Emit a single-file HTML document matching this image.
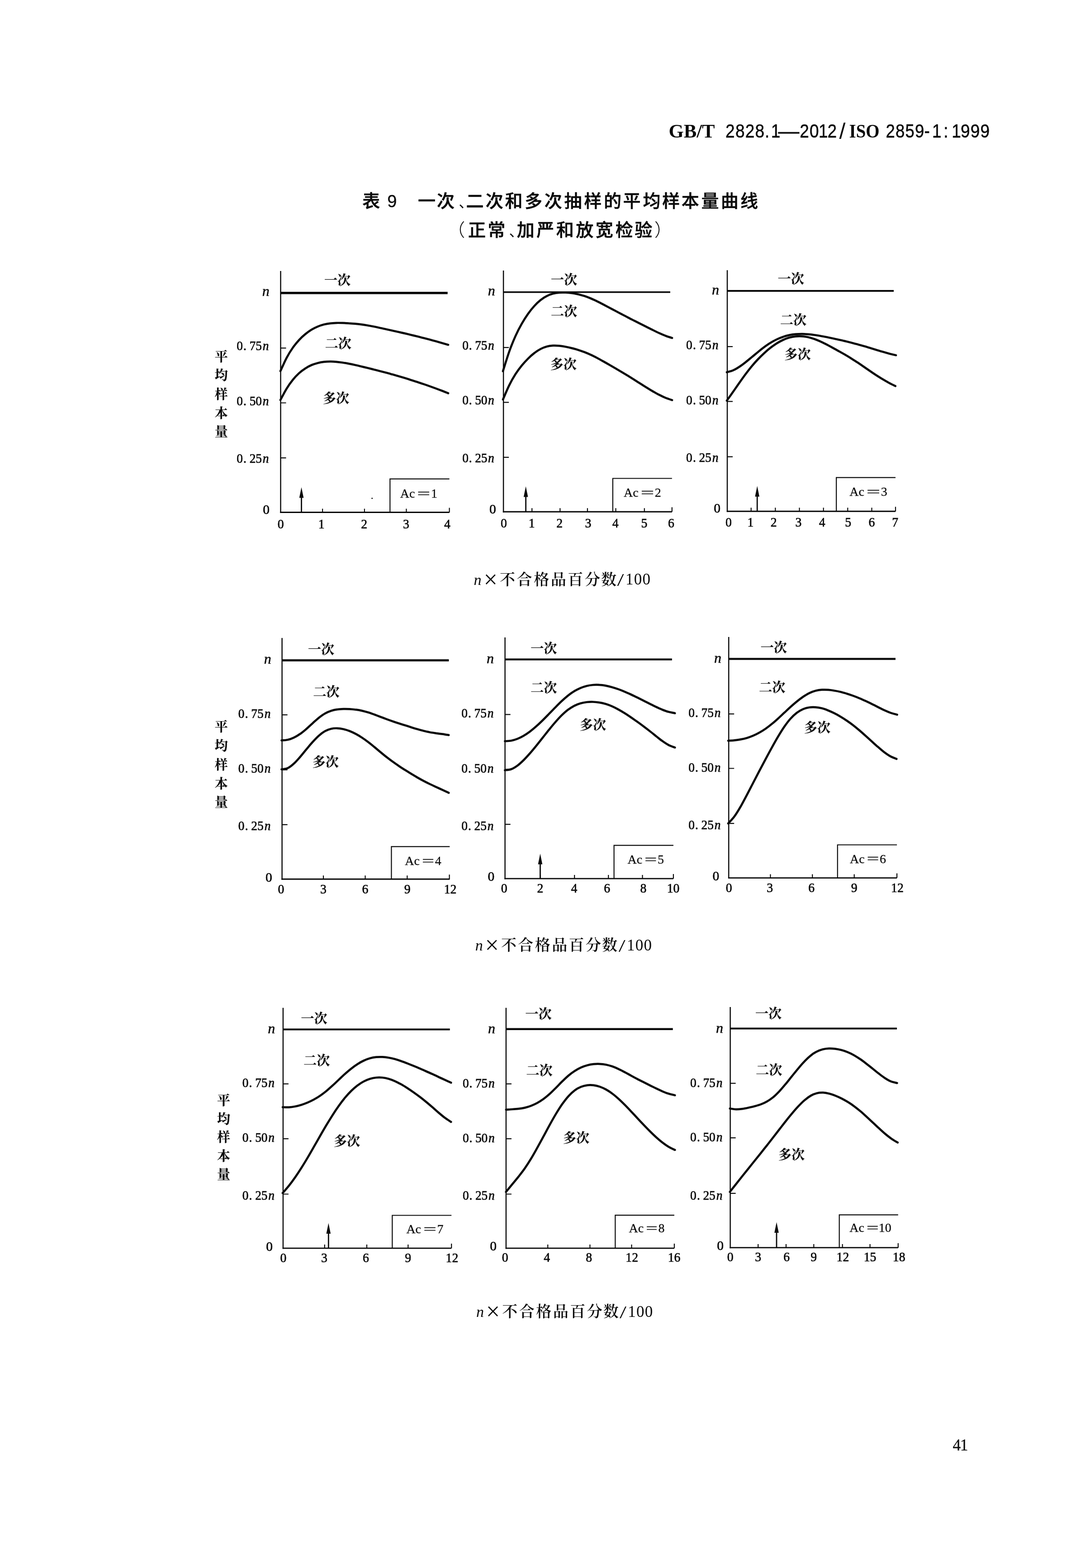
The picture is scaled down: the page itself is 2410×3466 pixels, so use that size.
<!DOCTYPE html>
<html lang="zh-CN">
<head>
<meta charset="utf-8">
<title>GB/T 2828.1—2012/ISO 2859-1:1999 表 9</title>
<style>
html,body{margin:0;padding:0;background:#fff;}
body{width:2410px;height:3466px;overflow:hidden;}
svg{display:block;}
text{fill:#0a0a0a;}
.ax{fill:none;stroke:#0a0a0a;stroke-width:2.9;}
.ay{fill:none;stroke:#0a0a0a;stroke-width:2.5;}
.tk{fill:none;stroke:#0a0a0a;stroke-width:2.2;}
.sh{fill:none;stroke:#0a0a0a;stroke-width:2.8;}
.bx{fill:none;stroke:#0a0a0a;stroke-width:2.2;}
.nl{fill:none;stroke:#0a0a0a;stroke-width:5.2;}
.cv{fill:none;stroke:#0a0a0a;stroke-width:4.7;stroke-linecap:round;stroke-linejoin:round;}
.ah{fill:#0a0a0a;stroke:none;}
.cl{font-family:"Liberation Serif","Noto Serif CJK SC",serif;font-size:29px;font-weight:700;stroke:#0a0a0a;stroke-width:0.25px;}
.vl{font-family:"Liberation Serif","Noto Serif CJK SC",serif;font-size:29px;font-weight:700;stroke:#0a0a0a;stroke-width:0.25px;}
.tl{font-family:"Liberation Serif","Noto Serif CJK SC",serif;font-size:29.5px;stroke:#0a0a0a;stroke-width:0.75px;}
.it{font-style:italic;}
.ac{font-family:"Liberation Serif","Noto Serif CJK SC",serif;font-size:28px;stroke:#0a0a0a;stroke-width:0.3px;}
.xt{font-family:"Liberation Serif","Noto Serif CJK SC",serif;}
.xc{font-family:"Liberation Serif","Noto Serif CJK SC",serif;font-size:34px;font-weight:600;}
.hb{font-family:"Liberation Serif","Noto Serif CJK SC",serif;font-size:42px;font-weight:700;}
.hs{font-family:"Liberation Sans","Noto Sans CJK SC",sans-serif;font-size:43px;letter-spacing:1.44px;stroke:#0a0a0a;stroke-width:0.6px;}
.hd{font-family:"Liberation Sans","Noto Sans CJK SC",sans-serif;font-size:40px;stroke:#0a0a0a;stroke-width:0.8px;}
.hl{font-family:"Liberation Sans","Noto Sans CJK SC",sans-serif;font-size:50px;}
.tt{font-family:"Liberation Sans","Noto Sans CJK SC",sans-serif;font-size:39px;font-weight:500;stroke:#0a0a0a;stroke-width:0.6px;}
.pc{font-size:30px;font-weight:400;stroke-width:0.2px;}
.pp{font-weight:300;stroke-width:0.1px;}
.t9{font-family:"Liberation Sans","Noto Sans CJK SC",sans-serif;font-size:38px;font-weight:400;stroke:#0a0a0a;stroke-width:0.4px;}
</style>
</head>
<body>
<svg width="2410" height="3466" viewBox="0 0 2410 3466">
<rect x="0" y="0" width="2410" height="3466" fill="#ffffff"/>
<g>
<path class="ay" d="M620.5 599.1 V1133.9"/>
<path class="ax" d="M619.2 1132.5 H993.6"/>
<path class="tk" d="M620.5 769.3 h12M620.5 890.5 h12M620.5 1012.1 h12M713.1 1132.5 v-8M805.9 1132.5 v-8M898.4 1132.5 v-8M993.6 1132.5 v-10"/>
<path class="nl" style="stroke-width:5.2" d="M620.5 647.7 H989.7"/>
<path class="cv" d="M620.0 820.3C622.3 815.4 629.2 799.5 633.8 790.8C638.3 782.2 642.9 775.0 647.5 768.5C652.1 761.9 656.7 756.6 661.2 751.6C665.8 746.6 670.4 742.4 675.0 738.7C679.6 734.9 684.1 731.6 688.7 728.8C693.3 726.0 697.9 723.7 702.5 721.8C707.0 719.9 711.6 718.4 716.2 717.2C720.8 716.1 725.4 715.3 729.9 714.8C734.5 714.2 739.1 714.0 743.7 713.8C748.2 713.7 752.8 713.8 757.4 713.9C762.0 714.0 766.6 714.3 771.1 714.6C775.7 714.8 780.3 715.2 784.9 715.6C789.5 716.1 794.0 716.6 798.6 717.2C803.2 717.8 807.8 718.5 812.4 719.3C816.9 720.0 821.5 720.9 826.1 721.8C830.7 722.7 835.3 723.7 839.8 724.7C844.4 725.6 849.0 726.7 853.6 727.7C858.2 728.7 862.7 729.7 867.3 730.7C871.9 731.7 876.5 732.7 881.0 733.8C885.6 734.8 890.2 735.9 894.8 736.9C899.4 738.0 903.9 739.1 908.5 740.2C913.1 741.3 917.7 742.4 922.3 743.5C926.8 744.7 931.4 745.8 936.0 747.0C940.6 748.2 945.2 749.4 949.7 750.6C954.3 751.8 958.9 753.1 963.5 754.3C968.1 755.6 972.6 756.9 977.2 758.2C981.8 759.5 988.7 761.5 991.0 762.2"/>
<path class="cv" d="M620.0 884.2C622.3 880.0 629.2 866.3 633.8 858.9C638.3 851.4 642.9 845.1 647.5 839.4C652.1 833.8 656.7 829.1 661.2 824.9C665.8 820.7 670.4 817.3 675.0 814.4C679.6 811.4 684.1 809.0 688.7 807.0C693.3 805.0 697.9 803.6 702.5 802.4C707.0 801.2 711.6 800.4 716.2 799.9C720.8 799.4 725.4 799.2 729.9 799.2C734.5 799.1 739.1 799.4 743.7 799.8C748.2 800.2 752.8 800.8 757.4 801.5C762.0 802.1 766.6 803.0 771.1 803.9C775.7 804.7 780.3 805.7 784.9 806.8C789.5 807.8 794.0 808.9 798.6 810.0C803.2 811.1 807.8 812.2 812.4 813.3C816.9 814.4 821.5 815.6 826.1 816.7C830.7 817.8 835.3 819.0 839.8 820.2C844.4 821.3 849.0 822.5 853.6 823.8C858.2 825.0 862.7 826.3 867.3 827.6C871.9 828.8 876.5 830.2 881.0 831.5C885.6 832.9 890.2 834.2 894.8 835.6C899.4 837.0 903.9 838.4 908.5 839.9C913.1 841.3 917.7 842.8 922.3 844.3C926.8 845.8 931.4 847.3 936.0 848.9C940.6 850.4 945.2 852.0 949.7 853.6C954.3 855.3 958.9 856.9 963.5 858.6C968.1 860.3 972.6 862.0 977.2 863.8C981.8 865.5 988.7 868.3 991.0 869.2"/>
<path class="bx" d="M862.3 1132.5 V1058.7 H993.6"/>
<path class="sh" d="M666.5 1132.5 V1097.0"/>
<path class="ah" d="M666.5 1077.0 l-4.8 23.5 h9.6z"/>
<text class="cl" x="746.1" y="629.7" text-anchor="middle">一次</text>
<text class="cl" x="747.7" y="770.4" text-anchor="middle">二次</text>
<text class="cl" x="743.0" y="890.8" text-anchor="middle">多次</text>
<text class="tl" transform="translate(523.3 773.9) scale(0.93 1)" x="0.0 15.9 30.5 45.1 61.9" y="0">0.75<tspan class="it">n</tspan></text>
<text class="tl" transform="translate(523.3 895.5) scale(0.93 1)" x="0.0 15.9 30.5 45.1 61.9" y="0">0.50<tspan class="it">n</tspan></text>
<text class="tl" transform="translate(523.3 1022.6) scale(0.93 1)" x="0.0 15.9 30.5 45.1 61.9" y="0">0.25<tspan class="it">n</tspan></text>
<text class="tl it" style="font-size:32px;stroke-width:0.55px" x="579.8" y="653.5">n</text>
<text class="tl" x="588.6" y="1136.4" text-anchor="middle">0</text>
<text class="tl" transform="translate(620.6 1168.2) scale(0.94 1)" text-anchor="middle">0</text>
<text class="tl" transform="translate(710.8 1168.2) scale(0.94 1)" text-anchor="middle">1</text>
<text class="tl" transform="translate(805.2 1168.2) scale(0.94 1)" text-anchor="middle">2</text>
<text class="tl" transform="translate(898.0 1168.2) scale(0.94 1)" text-anchor="middle">3</text>
<text class="tl" transform="translate(988.9 1168.2) scale(0.94 1)" text-anchor="middle">4</text>
<text class="ac" y="1100.3"><tspan x="884.8">Ac</tspan><tspan x="922.3" dy="-0.5" textLength="29.1" lengthAdjust="spacingAndGlyphs">=</tspan><tspan x="952.9" dy="0.5">1</tspan></text>
</g>
<g>
<path class="ay" d="M1113.1 598.0 V1132.7"/>
<path class="ax" d="M1111.8 1131.3 H1485.8"/>
<path class="tk" d="M1113.1 768.1 h12M1113.1 889.3 h12M1113.1 1010.9 h12M1176.2 1131.3 v-8M1238.3 1131.3 v-8M1298.9 1131.3 v-8M1361.5 1131.3 v-8M1424.8 1131.3 v-8M1485.8 1131.3 v-10"/>
<path class="nl" style="stroke-width:3.6" d="M1113.1 645.8 H1481.9"/>
<path class="cv" d="M1112.0 820.5C1114.3 813.3 1121.3 790.1 1125.9 777.2C1130.5 764.3 1135.1 753.2 1139.7 742.9C1144.3 732.7 1148.9 723.9 1153.6 715.7C1158.2 707.6 1162.8 700.4 1167.4 693.9C1172.0 687.3 1176.6 681.6 1181.3 676.5C1185.9 671.4 1190.5 667.0 1195.1 663.4C1199.7 659.7 1204.3 656.7 1209.0 654.4C1213.6 652.0 1218.2 650.4 1222.8 649.1C1227.4 647.9 1232.0 647.2 1236.7 646.8C1241.3 646.4 1245.9 646.5 1250.5 646.7C1255.1 646.9 1259.7 647.3 1264.4 648.0C1269.0 648.6 1273.6 649.4 1278.2 650.5C1282.8 651.6 1287.4 652.8 1292.1 654.3C1296.7 655.8 1301.3 657.6 1305.9 659.5C1310.5 661.4 1315.1 663.6 1319.8 665.8C1324.4 668.0 1329.0 670.4 1333.6 672.8C1338.2 675.2 1342.8 677.7 1347.5 680.2C1352.1 682.6 1356.7 685.1 1361.3 687.5C1365.9 690.0 1370.5 692.4 1375.2 694.8C1379.8 697.3 1384.4 699.7 1389.0 702.1C1393.6 704.4 1398.2 706.8 1402.9 709.2C1407.5 711.5 1412.1 713.9 1416.7 716.2C1421.3 718.5 1425.9 720.8 1430.6 723.1C1435.2 725.4 1439.8 727.8 1444.4 730.0C1449.0 732.3 1453.6 734.6 1458.3 736.7C1462.9 738.7 1467.5 740.8 1472.1 742.5C1476.7 744.3 1483.6 746.3 1486.0 747.0"/>
<path class="cv" d="M1112.0 883.1C1114.3 877.9 1121.3 860.9 1125.9 851.6C1130.5 842.2 1135.1 834.4 1139.7 827.1C1144.3 819.9 1148.9 813.9 1153.6 808.1C1158.2 802.4 1162.8 797.4 1167.4 792.8C1172.0 788.2 1176.6 784.0 1181.3 780.5C1185.9 776.9 1190.5 773.9 1195.1 771.5C1199.7 769.1 1204.3 767.3 1209.0 766.0C1213.6 764.7 1218.2 764.2 1222.8 763.9C1227.4 763.6 1232.0 763.9 1236.7 764.4C1241.3 764.8 1245.9 765.6 1250.5 766.5C1255.1 767.4 1259.7 768.4 1264.4 769.6C1269.0 770.7 1273.6 772.0 1278.2 773.4C1282.8 774.9 1287.4 776.5 1292.1 778.3C1296.7 780.1 1301.3 782.0 1305.9 784.2C1310.5 786.3 1315.1 788.6 1319.8 791.0C1324.4 793.5 1329.0 796.0 1333.6 798.6C1338.2 801.2 1342.8 803.9 1347.5 806.5C1352.1 809.2 1356.7 811.8 1361.3 814.5C1365.9 817.3 1370.5 820.0 1375.2 822.7C1379.8 825.5 1384.4 828.3 1389.0 831.1C1393.6 834.0 1398.2 836.9 1402.9 839.8C1407.5 842.7 1412.1 845.6 1416.7 848.5C1421.3 851.5 1425.9 854.4 1430.6 857.2C1435.2 860.1 1439.8 862.9 1444.4 865.6C1449.0 868.2 1453.6 870.9 1458.3 873.2C1462.9 875.6 1467.5 877.8 1472.1 879.7C1476.7 881.5 1483.6 883.6 1486.0 884.4"/>
<path class="bx" d="M1354.9 1131.3 V1057.5 H1485.8"/>
<path class="sh" d="M1162.6 1131.3 V1095.0"/>
<path class="ah" d="M1162.6 1075.0 l-4.8 23.5 h9.6z"/>
<text class="cl" x="1246.9" y="628.6" text-anchor="middle">一次</text>
<text class="cl" x="1246.9" y="698.5" text-anchor="middle">二次</text>
<text class="cl" x="1245.7" y="815.8" text-anchor="middle">多次</text>
<text class="tl" transform="translate(1022.2 773.2) scale(0.93 1)" x="0.0 15.7 30.2 44.7 61.2" y="0">0.75<tspan class="it">n</tspan></text>
<text class="tl" transform="translate(1022.2 894.4) scale(0.93 1)" x="0.0 15.7 30.2 44.7 61.2" y="0">0.50<tspan class="it">n</tspan></text>
<text class="tl" transform="translate(1022.2 1021.8) scale(0.93 1)" x="0.0 15.7 30.2 44.7 61.2" y="0">0.25<tspan class="it">n</tspan></text>
<text class="tl it" style="font-size:32px;stroke-width:0.55px" x="1078.7" y="652.7">n</text>
<text class="tl" x="1089.4" y="1135.2" text-anchor="middle">0</text>
<text class="tl" transform="translate(1114.0 1165.5) scale(0.94 1)" text-anchor="middle">0</text>
<text class="tl" transform="translate(1175.8 1165.5) scale(0.94 1)" text-anchor="middle">1</text>
<text class="tl" transform="translate(1237.2 1165.5) scale(0.94 1)" text-anchor="middle">2</text>
<text class="tl" transform="translate(1300.5 1165.5) scale(0.94 1)" text-anchor="middle">3</text>
<text class="tl" transform="translate(1360.7 1165.5) scale(0.94 1)" text-anchor="middle">4</text>
<text class="tl" transform="translate(1424.4 1165.5) scale(0.94 1)" text-anchor="middle">5</text>
<text class="tl" transform="translate(1483.9 1165.5) scale(0.94 1)" text-anchor="middle">6</text>
<text class="ac" y="1098.3"><tspan x="1379.0">Ac</tspan><tspan x="1416.5" dy="-0.5" textLength="29.9" lengthAdjust="spacingAndGlyphs">=</tspan><tspan x="1447.8" dy="0.5">2</tspan></text>
</g>
<g>
<path class="ay" d="M1608.0 597.2 V1131.6"/>
<path class="ax" d="M1606.8 1130.2 H1980.0"/>
<path class="tk" d="M1608.0 766.2 h12M1608.0 887.4 h12M1608.0 1009.7 h12M1660.7 1130.2 v-8M1714.3 1130.2 v-8M1767.5 1130.2 v-8M1820.7 1130.2 v-8M1874.3 1130.2 v-8M1927.5 1130.2 v-8M1980.0 1130.2 v-10"/>
<path class="nl" style="stroke-width:4.0" d="M1608.0 643.0 H1976.1"/>
<path class="cv" d="M1607.0 822.8C1609.3 822.1 1616.3 820.7 1620.9 818.7C1625.5 816.7 1630.1 813.9 1634.7 810.8C1639.3 807.8 1643.9 804.2 1648.6 800.6C1653.2 797.0 1657.8 793.1 1662.4 789.3C1667.0 785.5 1671.6 781.5 1676.3 777.8C1680.9 774.0 1685.5 770.3 1690.1 766.9C1694.7 763.5 1699.3 760.3 1704.0 757.5C1708.6 754.7 1713.2 752.2 1717.8 750.0C1722.4 747.8 1727.0 745.9 1731.7 744.4C1736.3 742.8 1740.9 741.6 1745.5 740.6C1750.1 739.7 1754.7 739.1 1759.4 738.7C1764.0 738.3 1768.6 738.2 1773.2 738.2C1777.8 738.2 1782.4 738.5 1787.1 738.9C1791.7 739.3 1796.3 739.9 1800.9 740.5C1805.5 741.1 1810.1 741.9 1814.8 742.7C1819.4 743.5 1824.0 744.4 1828.6 745.3C1833.2 746.3 1837.8 747.2 1842.5 748.2C1847.1 749.2 1851.7 750.2 1856.3 751.3C1860.9 752.3 1865.5 753.4 1870.2 754.5C1874.8 755.6 1879.4 756.7 1884.0 757.9C1888.6 759.1 1893.2 760.4 1897.9 761.7C1902.5 762.9 1907.1 764.3 1911.7 765.6C1916.3 766.9 1920.9 768.3 1925.6 769.7C1930.2 771.1 1934.8 772.5 1939.4 773.9C1944.0 775.3 1948.6 776.7 1953.3 778.0C1957.9 779.3 1962.5 780.6 1967.1 781.9C1971.7 783.1 1978.6 784.7 1981.0 785.2"/>
<path class="cv" d="M1607.0 885.5C1609.3 882.3 1616.2 872.7 1620.8 866.2C1625.4 859.6 1630.0 852.8 1634.6 846.3C1639.2 839.8 1643.8 833.3 1648.4 827.1C1653.0 821.0 1657.6 815.1 1662.2 809.5C1666.8 804.0 1671.4 798.8 1676.0 794.0C1680.6 789.1 1685.2 784.6 1689.8 780.4C1694.4 776.2 1699.0 772.3 1703.6 768.7C1708.2 765.2 1712.8 761.9 1717.4 759.0C1722.0 756.2 1726.6 753.6 1731.2 751.5C1735.8 749.4 1740.4 747.6 1745.0 746.3C1749.6 745.0 1754.2 744.1 1758.9 743.6C1763.5 743.1 1768.1 743.0 1772.7 743.3C1777.3 743.6 1781.9 744.3 1786.5 745.3C1791.1 746.3 1795.7 747.7 1800.3 749.3C1804.9 750.9 1809.5 752.9 1814.1 754.9C1818.7 757.0 1823.3 759.4 1827.9 761.7C1832.5 764.1 1837.1 766.6 1841.7 769.1C1846.3 771.6 1850.9 774.1 1855.5 776.7C1860.1 779.2 1864.7 781.8 1869.3 784.5C1873.9 787.2 1878.5 790.0 1883.1 792.9C1887.7 795.8 1892.3 798.8 1896.9 801.8C1901.5 804.9 1906.1 808.1 1910.7 811.3C1915.3 814.4 1919.9 817.6 1924.5 820.7C1929.1 823.9 1933.7 827.0 1938.3 830.0C1942.9 832.9 1947.5 835.8 1952.1 838.6C1956.7 841.4 1961.3 844.0 1965.9 846.5C1970.5 849.0 1977.4 852.3 1979.7 853.4"/>
<path class="bx" d="M1849.1 1130.2 V1055.6 H1980.0"/>
<path class="sh" d="M1674.2 1130.2 V1094.2"/>
<path class="ah" d="M1674.2 1074.2 l-4.8 23.5 h9.6z"/>
<text class="cl" x="1748.8" y="626.6" text-anchor="middle">一次</text>
<text class="cl" x="1753.9" y="717.9" text-anchor="middle">二次</text>
<text class="cl" x="1763.6" y="794.4" text-anchor="middle">多次</text>
<text class="tl" transform="translate(1517.1 772.0) scale(0.93 1)" x="0.0 15.9 30.5 45.1 61.9" y="0">0.75<tspan class="it">n</tspan></text>
<text class="tl" transform="translate(1517.1 893.6) scale(0.93 1)" x="0.0 15.9 30.5 45.1 61.9" y="0">0.50<tspan class="it">n</tspan></text>
<text class="tl" transform="translate(1517.1 1020.6) scale(0.93 1)" x="0.0 15.9 30.5 45.1 61.9" y="0">0.25<tspan class="it">n</tspan></text>
<text class="tl it" style="font-size:32px;stroke-width:0.55px" x="1574.0" y="650.8">n</text>
<text class="tl" x="1585.5" y="1133.3" text-anchor="middle">0</text>
<text class="tl" transform="translate(1610.9 1163.6) scale(0.94 1)" text-anchor="middle">0</text>
<text class="tl" transform="translate(1659.5 1163.6) scale(0.94 1)" text-anchor="middle">1</text>
<text class="tl" transform="translate(1710.8 1163.6) scale(0.94 1)" text-anchor="middle">2</text>
<text class="tl" transform="translate(1765.5 1163.6) scale(0.94 1)" text-anchor="middle">3</text>
<text class="tl" transform="translate(1817.6 1163.6) scale(0.94 1)" text-anchor="middle">4</text>
<text class="tl" transform="translate(1875.1 1163.6) scale(0.94 1)" text-anchor="middle">5</text>
<text class="tl" transform="translate(1927.5 1163.6) scale(0.94 1)" text-anchor="middle">6</text>
<text class="tl" transform="translate(1979.2 1163.6) scale(0.94 1)" text-anchor="middle">7</text>
<text class="ac" y="1096.4"><tspan x="1878.2">Ac</tspan><tspan x="1915.7" dy="-0.5" textLength="30.6" lengthAdjust="spacingAndGlyphs">=</tspan><tspan x="1947.8" dy="0.5">3</tspan></text>
</g>
<g>
<path class="ay" d="M623.6 1410.3 V1944.7"/>
<path class="ax" d="M622.3 1943.3 H994.3"/>
<path class="tk" d="M623.6 1580.1 h12M623.6 1701.7 h12M623.6 1822.9 h12M715.0 1943.3 v-8M807.5 1943.3 v-8M900.3 1943.3 v-8M993.6 1943.3 v-10"/>
<path class="nl" style="stroke-width:4.6" d="M623.6 1459.6 H992.4"/>
<path class="cv" d="M622.5 1636.6C624.8 1636.4 631.7 1636.3 636.2 1635.3C640.8 1634.3 645.4 1632.6 649.9 1630.4C654.5 1628.3 659.0 1625.5 663.6 1622.3C668.2 1619.2 672.7 1615.3 677.3 1611.4C681.9 1607.5 686.4 1602.9 691.0 1598.9C695.6 1594.8 700.1 1590.4 704.7 1586.8C709.2 1583.2 713.8 1579.8 718.4 1577.2C722.9 1574.6 727.5 1572.7 732.1 1571.2C736.6 1569.7 741.2 1568.8 745.8 1568.2C750.3 1567.5 754.9 1567.3 759.4 1567.1C764.0 1567.0 768.6 1567.1 773.1 1567.3C777.7 1567.6 782.3 1568.0 786.8 1568.7C791.4 1569.3 796.0 1570.1 800.5 1571.1C805.1 1572.2 809.7 1573.4 814.2 1574.8C818.8 1576.2 823.3 1577.9 827.9 1579.5C832.5 1581.2 837.0 1583.0 841.6 1584.7C846.2 1586.4 850.7 1588.2 855.3 1589.9C859.9 1591.6 864.4 1593.2 869.0 1594.7C873.5 1596.3 878.1 1597.8 882.7 1599.2C887.2 1600.7 891.8 1602.2 896.4 1603.6C900.9 1605.1 905.5 1606.5 910.1 1607.9C914.6 1609.4 919.2 1610.8 923.7 1612.1C928.3 1613.4 932.9 1614.7 937.4 1615.8C942.0 1616.9 946.6 1617.8 951.1 1618.7C955.7 1619.5 960.3 1620.2 964.8 1620.9C969.4 1621.5 973.9 1622.1 978.5 1622.7C983.1 1623.4 989.9 1624.5 992.2 1624.8"/>
<path class="cv" d="M622.5 1700.5C624.8 1700.1 631.7 1700.1 636.2 1697.9C640.8 1695.8 645.4 1692.0 649.9 1687.8C654.5 1683.7 659.0 1678.3 663.6 1673.1C668.2 1667.9 672.7 1662.0 677.3 1656.5C681.9 1651.1 686.4 1645.4 691.0 1640.4C695.6 1635.4 700.1 1630.4 704.7 1626.4C709.2 1622.4 713.8 1618.9 718.4 1616.3C722.9 1613.7 727.5 1612.1 732.1 1611.0C736.6 1609.9 741.2 1609.6 745.8 1609.8C750.3 1609.9 754.9 1610.7 759.4 1611.7C764.0 1612.8 768.6 1614.3 773.1 1616.0C777.7 1617.8 782.3 1620.0 786.8 1622.4C791.4 1624.8 796.0 1627.6 800.5 1630.6C805.1 1633.6 809.7 1636.9 814.2 1640.4C818.8 1643.8 823.3 1647.6 827.9 1651.4C832.5 1655.1 837.0 1659.1 841.6 1662.8C846.2 1666.6 850.7 1670.4 855.3 1673.9C859.9 1677.5 864.4 1680.9 869.0 1684.2C873.5 1687.5 878.1 1690.6 882.7 1693.7C887.2 1696.8 891.8 1699.7 896.4 1702.6C900.9 1705.5 905.5 1708.3 910.1 1711.1C914.6 1713.8 919.2 1716.5 923.7 1719.1C928.3 1721.7 932.9 1724.2 937.4 1726.6C942.0 1729.0 946.6 1731.3 951.1 1733.5C955.7 1735.7 960.3 1737.8 964.8 1739.9C969.4 1742.0 973.9 1744.0 978.5 1746.1C983.1 1748.2 989.9 1751.5 992.2 1752.6"/>
<path class="bx" d="M865.4 1943.3 V1871.4 H994.3"/>
<text class="cl" x="710.0" y="1446.3" text-anchor="middle">一次</text>
<text class="cl" x="721.6" y="1539.6" text-anchor="middle">二次</text>
<text class="cl" x="719.7" y="1694.9" text-anchor="middle">多次</text>
<text class="tl" transform="translate(526.8 1587.1) scale(0.93 1)" x="0.0 16.0 30.7 45.4 62.2" y="0">0.75<tspan class="it">n</tspan></text>
<text class="tl" transform="translate(526.8 1708.3) scale(0.93 1)" x="0.0 16.0 30.7 45.4 62.2" y="0">0.50<tspan class="it">n</tspan></text>
<text class="tl" transform="translate(526.8 1835.3) scale(0.93 1)" x="0.0 16.0 30.7 45.4 62.2" y="0">0.25<tspan class="it">n</tspan></text>
<text class="tl it" style="font-size:32px;stroke-width:0.55px" x="583.7" y="1467.4">n</text>
<text class="tl" x="594.4" y="1949.1" text-anchor="middle">0</text>
<text class="tl" transform="translate(621.4 1975.1) scale(0.94 1)" text-anchor="middle">0</text>
<text class="tl" transform="translate(715.0 1975.1) scale(0.94 1)" text-anchor="middle">3</text>
<text class="tl" transform="translate(807.5 1975.1) scale(0.94 1)" text-anchor="middle">6</text>
<text class="tl" transform="translate(900.7 1975.1) scale(0.94 1)" text-anchor="middle">9</text>
<text class="tl" transform="translate(995.5 1975.1) scale(0.94 1)" text-anchor="middle">12</text>
<text class="ac" y="1912.2"><tspan x="895.3">Ac</tspan><tspan x="932.8" dy="-0.5" textLength="27.5" lengthAdjust="spacingAndGlyphs">=</tspan><tspan x="961.8" dy="0.5">4</tspan></text>
</g>
<g>
<path class="ay" d="M1116.6 1409.1 V1943.5"/>
<path class="ax" d="M1115.3 1942.1 H1488.9"/>
<path class="tk" d="M1116.6 1579.3 h12M1116.6 1700.5 h12M1116.6 1822.1 h12M1194.4 1942.1 v-8M1270.2 1942.1 v-8M1345.2 1942.1 v-8M1420.5 1942.1 v-8M1488.9 1942.1 v-10"/>
<path class="nl" style="stroke-width:4.2" d="M1116.6 1457.7 H1485.8"/>
<path class="cv" d="M1116.3 1638.4C1118.6 1638.2 1125.6 1638.1 1130.2 1637.2C1134.8 1636.3 1139.5 1634.9 1144.1 1633.1C1148.8 1631.2 1153.4 1628.9 1158.0 1626.2C1162.7 1623.5 1167.3 1620.3 1172.0 1616.8C1176.6 1613.3 1181.3 1609.4 1185.9 1605.3C1190.5 1601.2 1195.2 1596.7 1199.8 1592.2C1204.5 1587.7 1209.1 1582.9 1213.7 1578.2C1218.4 1573.4 1223.0 1568.5 1227.7 1563.8C1232.3 1559.1 1237.0 1554.3 1241.6 1550.0C1246.2 1545.7 1250.9 1541.5 1255.5 1537.8C1260.2 1534.1 1264.8 1530.9 1269.4 1528.1C1274.1 1525.2 1278.7 1522.9 1283.4 1520.9C1288.0 1518.9 1292.6 1517.4 1297.3 1516.2C1301.9 1515.1 1306.6 1514.4 1311.2 1514.0C1315.9 1513.6 1320.5 1513.6 1325.1 1513.9C1329.8 1514.1 1334.4 1514.8 1339.1 1515.6C1343.7 1516.5 1348.3 1517.6 1353.0 1518.9C1357.6 1520.2 1362.3 1521.7 1366.9 1523.4C1371.5 1525.0 1376.2 1526.9 1380.8 1528.8C1385.5 1530.7 1390.1 1532.8 1394.8 1535.0C1399.4 1537.1 1404.0 1539.4 1408.7 1541.7C1413.3 1544.0 1418.0 1546.3 1422.6 1548.6C1427.2 1551.0 1431.9 1553.3 1436.5 1555.7C1441.2 1558.0 1445.8 1560.3 1450.4 1562.5C1455.1 1564.6 1459.7 1566.8 1464.4 1568.7C1469.0 1570.5 1473.7 1572.3 1478.3 1573.6C1482.9 1574.9 1489.9 1576.0 1492.2 1576.5"/>
<path class="cv" d="M1116.3 1702.6C1118.6 1702.2 1125.6 1702.0 1130.2 1700.3C1134.8 1698.6 1139.5 1695.6 1144.1 1692.3C1148.8 1688.9 1153.4 1684.5 1158.0 1680.0C1162.7 1675.4 1167.3 1670.2 1172.0 1664.9C1176.6 1659.7 1181.3 1654.0 1185.9 1648.3C1190.5 1642.6 1195.2 1636.6 1199.8 1630.8C1204.5 1624.9 1209.1 1618.9 1213.7 1613.2C1218.4 1607.5 1223.0 1601.8 1227.7 1596.5C1232.3 1591.2 1237.0 1586.0 1241.6 1581.4C1246.2 1576.9 1250.9 1572.6 1255.5 1569.1C1260.2 1565.6 1264.8 1562.7 1269.4 1560.3C1274.1 1557.9 1278.7 1556.2 1283.4 1554.8C1288.0 1553.4 1292.6 1552.6 1297.3 1552.0C1301.9 1551.5 1306.6 1551.4 1311.2 1551.5C1315.9 1551.6 1320.5 1552.1 1325.1 1552.9C1329.8 1553.6 1334.4 1554.7 1339.1 1556.1C1343.7 1557.5 1348.3 1559.2 1353.0 1561.2C1357.6 1563.2 1362.3 1565.6 1366.9 1568.1C1371.5 1570.6 1376.2 1573.4 1380.8 1576.3C1385.5 1579.2 1390.1 1582.3 1394.8 1585.5C1399.4 1588.6 1404.0 1591.9 1408.7 1595.2C1413.3 1598.5 1418.0 1601.9 1422.6 1605.4C1427.2 1608.8 1431.9 1612.4 1436.5 1616.0C1441.2 1619.6 1445.8 1623.4 1450.4 1627.1C1455.1 1630.7 1459.7 1634.6 1464.4 1637.9C1469.0 1641.2 1473.7 1644.5 1478.3 1646.9C1482.9 1649.3 1489.9 1651.5 1492.2 1652.4"/>
<path class="bx" d="M1357.6 1942.1 V1868.7 H1488.9"/>
<path class="sh" d="M1194.4 1942.1 V1907.0"/>
<path class="ah" d="M1194.4 1887.0 l-4.8 23.5 h9.6z"/>
<text class="cl" x="1202.2" y="1444.4" text-anchor="middle">一次</text>
<text class="cl" x="1202.2" y="1530.6" text-anchor="middle">二次</text>
<text class="cl" x="1311.0" y="1613.4" text-anchor="middle">多次</text>
<text class="tl" transform="translate(1020.2 1585.9) scale(0.93 1)" x="0.0 15.9 30.5 45.1 61.9" y="0">0.75<tspan class="it">n</tspan></text>
<text class="tl" transform="translate(1020.2 1707.5) scale(0.93 1)" x="0.0 15.9 30.5 45.1 61.9" y="0">0.50<tspan class="it">n</tspan></text>
<text class="tl" transform="translate(1020.2 1834.5) scale(0.93 1)" x="0.0 15.9 30.5 45.1 61.9" y="0">0.25<tspan class="it">n</tspan></text>
<text class="tl it" style="font-size:32px;stroke-width:0.55px" x="1076.0" y="1466.2">n</text>
<text class="tl" x="1085.9" y="1947.2" text-anchor="middle">0</text>
<text class="tl" transform="translate(1114.8 1973.2) scale(0.94 1)" text-anchor="middle">0</text>
<text class="tl" transform="translate(1194.4 1973.2) scale(0.94 1)" text-anchor="middle">2</text>
<text class="tl" transform="translate(1269.4 1973.2) scale(0.94 1)" text-anchor="middle">4</text>
<text class="tl" transform="translate(1342.1 1973.2) scale(0.94 1)" text-anchor="middle">6</text>
<text class="tl" transform="translate(1422.5 1973.2) scale(0.94 1)" text-anchor="middle">8</text>
<text class="tl" transform="translate(1488.5 1973.2) scale(0.94 1)" text-anchor="middle">10</text>
<text class="ac" y="1909.1"><tspan x="1387.5">Ac</tspan><tspan x="1425.0" dy="-0.5" textLength="27.5" lengthAdjust="spacingAndGlyphs">=</tspan><tspan x="1454.0" dy="0.5">5</tspan></text>
</g>
<g>
<path class="ay" d="M1611.2 1408.0 V1942.0"/>
<path class="ax" d="M1609.9 1940.6 H1983.1"/>
<path class="tk" d="M1611.2 1578.1 h12M1611.2 1698.5 h12M1611.2 1820.1 h12M1703.4 1940.6 v-8M1796.2 1940.6 v-8M1888.7 1940.6 v-8M1983.1 1940.6 v-10"/>
<path class="nl" style="stroke-width:4.6" d="M1611.2 1456.5 H1980.0"/>
<path class="cv" d="M1610.0 1637.4C1612.3 1637.2 1619.2 1636.8 1623.9 1636.3C1628.5 1635.8 1633.1 1635.3 1637.7 1634.4C1642.3 1633.6 1646.9 1632.6 1651.5 1631.2C1656.1 1629.8 1660.7 1628.2 1665.3 1626.2C1670.0 1624.2 1674.6 1621.9 1679.2 1619.3C1683.8 1616.7 1688.4 1613.8 1693.0 1610.6C1697.6 1607.3 1702.2 1603.8 1706.8 1600.0C1711.5 1596.2 1716.1 1592.1 1720.7 1587.9C1725.3 1583.8 1729.9 1579.3 1734.5 1575.1C1739.1 1570.8 1743.7 1566.4 1748.3 1562.3C1752.9 1558.2 1757.6 1554.1 1762.2 1550.4C1766.8 1546.6 1771.4 1543.1 1776.0 1540.0C1780.6 1536.9 1785.2 1534.1 1789.8 1531.9C1794.4 1529.7 1799.0 1528.0 1803.7 1526.8C1808.3 1525.6 1812.9 1525.0 1817.5 1524.7C1822.1 1524.4 1826.7 1524.5 1831.3 1524.9C1835.9 1525.2 1840.5 1525.9 1845.1 1526.7C1849.8 1527.4 1854.4 1528.4 1859.0 1529.5C1863.6 1530.7 1868.2 1531.9 1872.8 1533.4C1877.4 1534.8 1882.0 1536.4 1886.6 1538.1C1891.3 1539.8 1895.9 1541.6 1900.5 1543.6C1905.1 1545.5 1909.7 1547.6 1914.3 1549.7C1918.9 1551.8 1923.5 1554.1 1928.1 1556.4C1932.7 1558.6 1937.4 1561.0 1942.0 1563.3C1946.6 1565.6 1951.2 1568.1 1955.8 1570.2C1960.4 1572.3 1965.0 1574.3 1969.6 1575.9C1974.2 1577.5 1981.2 1579.1 1983.5 1579.8"/>
<path class="cv" d="M1610.0 1820.3C1612.3 1817.7 1619.2 1811.0 1623.8 1804.7C1628.4 1798.5 1633.0 1790.7 1637.6 1782.8C1642.2 1774.8 1646.8 1765.9 1651.4 1757.2C1656.0 1748.5 1660.6 1739.4 1665.2 1730.5C1669.8 1721.7 1674.4 1712.9 1678.9 1704.1C1683.5 1695.4 1688.1 1686.7 1692.7 1678.1C1697.3 1669.5 1701.9 1660.9 1706.5 1652.6C1711.1 1644.3 1715.7 1636.0 1720.3 1628.3C1724.9 1620.6 1729.5 1613.1 1734.1 1606.4C1738.7 1599.8 1743.3 1593.6 1747.9 1588.5C1752.5 1583.3 1757.1 1579.1 1761.7 1575.6C1766.2 1572.1 1770.8 1569.6 1775.4 1567.6C1780.0 1565.6 1784.6 1564.4 1789.2 1563.7C1793.8 1563.0 1798.4 1563.0 1803.0 1563.3C1807.6 1563.6 1812.2 1564.4 1816.8 1565.6C1821.4 1566.7 1826.0 1568.4 1830.6 1570.2C1835.2 1572.0 1839.8 1574.1 1844.4 1576.4C1849.0 1578.7 1853.6 1581.2 1858.1 1583.9C1862.7 1586.6 1867.3 1589.5 1871.9 1592.7C1876.5 1595.8 1881.1 1599.1 1885.7 1602.6C1890.3 1606.2 1894.9 1610.0 1899.5 1613.9C1904.1 1617.8 1908.7 1621.9 1913.3 1626.0C1917.9 1630.1 1922.5 1634.3 1927.1 1638.5C1931.7 1642.6 1936.3 1646.9 1940.9 1650.8C1945.4 1654.8 1950.0 1658.8 1954.6 1662.3C1959.2 1665.7 1963.8 1669.0 1968.4 1671.6C1973.0 1674.1 1979.9 1676.5 1982.2 1677.5"/>
<path class="bx" d="M1851.8 1940.6 V1867.5 H1983.1"/>
<text class="cl" x="1710.8" y="1442.4" text-anchor="middle">一次</text>
<text class="cl" x="1707.3" y="1529.8" text-anchor="middle">二次</text>
<text class="cl" x="1807.1" y="1619.2" text-anchor="middle">多次</text>
<text class="tl" transform="translate(1522.2 1584.7) scale(0.93 1)" x="0.0 15.9 30.5 45.1 61.9" y="0">0.75<tspan class="it">n</tspan></text>
<text class="tl" transform="translate(1522.2 1705.5) scale(0.93 1)" x="0.0 15.9 30.5 45.1 61.9" y="0">0.50<tspan class="it">n</tspan></text>
<text class="tl" transform="translate(1522.2 1833.3) scale(0.93 1)" x="0.0 15.9 30.5 45.1 61.9" y="0">0.25<tspan class="it">n</tspan></text>
<text class="tl it" style="font-size:32px;stroke-width:0.55px" x="1579.1" y="1464.7">n</text>
<text class="tl" x="1582.8" y="1946.4" text-anchor="middle">0</text>
<text class="tl" transform="translate(1611.7 1972.4) scale(0.94 1)" text-anchor="middle">0</text>
<text class="tl" transform="translate(1702.2 1972.4) scale(0.94 1)" text-anchor="middle">3</text>
<text class="tl" transform="translate(1794.3 1972.4) scale(0.94 1)" text-anchor="middle">6</text>
<text class="tl" transform="translate(1888.7 1972.4) scale(0.94 1)" text-anchor="middle">9</text>
<text class="tl" transform="translate(1983.9 1972.4) scale(0.94 1)" text-anchor="middle">12</text>
<text class="ac" y="1907.5"><tspan x="1879.0">Ac</tspan><tspan x="1916.5" dy="-0.5" textLength="27.1" lengthAdjust="spacingAndGlyphs">=</tspan><tspan x="1945.1" dy="0.5">6</tspan></text>
</g>
<g>
<path class="ay" d="M625.9 2227.7 V2760.5"/>
<path class="ax" d="M624.7 2759.1 H998.2"/>
<path class="tk" d="M625.9 2395.9 h12M625.9 2517.1 h12M625.9 2639.5 h12M717.8 2759.1 v-8M811.0 2759.1 v-8M902.3 2759.1 v-8M998.2 2759.1 v-10"/>
<path class="nl" style="stroke-width:4.2" d="M625.9 2275.5 H994.7"/>
<path class="cv" d="M625.0 2447.4C627.3 2447.4 634.2 2447.9 638.8 2447.6C643.4 2447.4 648.0 2446.7 652.6 2445.8C657.2 2444.9 661.8 2443.6 666.4 2442.2C671.0 2440.7 675.6 2439.0 680.2 2437.1C684.8 2435.1 689.4 2433.0 693.9 2430.5C698.5 2428.0 703.1 2425.3 707.7 2422.1C712.3 2419.0 716.9 2415.6 721.5 2411.8C726.1 2408.0 730.7 2403.8 735.3 2399.6C739.9 2395.4 744.5 2390.9 749.1 2386.6C753.7 2382.3 758.3 2377.8 762.9 2373.7C767.5 2369.6 772.1 2365.7 776.7 2362.1C781.2 2358.5 785.8 2355.1 790.4 2352.2C795.0 2349.3 799.6 2346.6 804.2 2344.5C808.8 2342.3 813.4 2340.6 818.0 2339.3C822.6 2338.0 827.2 2337.2 831.8 2336.7C836.4 2336.2 841.0 2336.2 845.6 2336.4C850.2 2336.6 854.8 2337.2 859.4 2338.0C864.0 2338.8 868.6 2339.9 873.1 2341.1C877.7 2342.4 882.3 2343.9 886.9 2345.5C891.5 2347.0 896.1 2348.8 900.7 2350.6C905.3 2352.4 909.9 2354.2 914.5 2356.1C919.1 2358.0 923.7 2359.9 928.3 2361.9C932.9 2363.9 937.5 2365.9 942.1 2368.0C946.7 2370.0 951.3 2372.1 955.9 2374.2C960.4 2376.3 965.0 2378.4 969.6 2380.6C974.2 2382.7 978.8 2384.8 983.4 2386.9C988.0 2389.1 994.9 2392.2 997.2 2393.2"/>
<path class="cv" d="M625.0 2637.1C627.3 2634.4 634.2 2626.7 638.8 2621.0C643.4 2615.2 648.0 2608.9 652.6 2602.3C657.2 2595.8 661.8 2588.8 666.4 2581.5C671.0 2574.3 675.6 2566.7 680.2 2558.9C684.8 2551.2 689.4 2543.1 693.9 2535.1C698.5 2527.1 703.1 2519.0 707.7 2511.0C712.3 2503.0 716.9 2495.0 721.5 2487.3C726.1 2479.6 730.7 2472.1 735.3 2464.9C739.9 2457.7 744.5 2450.8 749.1 2444.4C753.7 2437.9 758.3 2431.8 762.9 2426.3C767.5 2420.8 772.1 2415.7 776.7 2411.2C781.2 2406.7 785.8 2402.8 790.4 2399.3C795.0 2395.9 799.6 2392.9 804.2 2390.5C808.8 2388.1 813.4 2386.2 818.0 2384.8C822.6 2383.3 827.2 2382.4 831.8 2382.0C836.4 2381.5 841.0 2381.6 845.6 2382.0C850.2 2382.5 854.8 2383.4 859.4 2384.7C864.0 2386.0 868.6 2387.8 873.1 2389.8C877.7 2391.8 882.3 2394.3 886.9 2396.8C891.5 2399.4 896.1 2402.3 900.7 2405.2C905.3 2408.2 909.9 2411.3 914.5 2414.6C919.1 2417.8 923.7 2421.2 928.3 2424.7C932.9 2428.2 937.5 2431.8 942.1 2435.6C946.7 2439.3 951.3 2443.3 955.9 2447.3C960.4 2451.3 965.0 2455.5 969.6 2459.4C974.2 2463.3 978.8 2467.2 983.4 2470.7C988.0 2474.1 994.9 2478.4 997.2 2480.0"/>
<path class="bx" d="M867.3 2759.1 V2686.5 H998.2"/>
<path class="sh" d="M726.3 2759.1 V2723.6"/>
<path class="ah" d="M726.3 2703.6 l-4.8 23.5 h9.6z"/>
<text class="cl" x="694.4" y="2262.2" text-anchor="middle">一次</text>
<text class="cl" x="700.3" y="2355.4" text-anchor="middle">二次</text>
<text class="cl" x="767.1" y="2533.3" text-anchor="middle">多次</text>
<text class="tl" transform="translate(535.8 2402.9) scale(0.93 1)" x="0.0 15.9 30.5 45.1 61.9" y="0">0.75<tspan class="it">n</tspan></text>
<text class="tl" transform="translate(535.8 2524.1) scale(0.93 1)" x="0.0 15.9 30.5 45.1 61.9" y="0">0.50<tspan class="it">n</tspan></text>
<text class="tl" transform="translate(535.8 2652.3) scale(0.93 1)" x="0.0 15.9 30.5 45.1 61.9" y="0">0.25<tspan class="it">n</tspan></text>
<text class="tl it" style="font-size:32px;stroke-width:0.55px" x="592.3" y="2284.0">n</text>
<text class="tl" x="595.6" y="2764.9" text-anchor="middle">0</text>
<text class="tl" transform="translate(626.5 2790.2) scale(0.94 1)" text-anchor="middle">0</text>
<text class="tl" transform="translate(717.0 2790.2) scale(0.94 1)" text-anchor="middle">3</text>
<text class="tl" transform="translate(809.0 2790.2) scale(0.94 1)" text-anchor="middle">6</text>
<text class="tl" transform="translate(902.3 2790.2) scale(0.94 1)" text-anchor="middle">9</text>
<text class="tl" transform="translate(999.4 2790.2) scale(0.94 1)" text-anchor="middle">12</text>
<text class="ac" y="2726.1"><tspan x="898.4">Ac</tspan><tspan x="935.9" dy="-0.5" textLength="29.1" lengthAdjust="spacingAndGlyphs">=</tspan><tspan x="966.5" dy="0.5">7</tspan></text>
</g>
<g>
<path class="ay" d="M1118.9 2227.7 V2760.5"/>
<path class="ax" d="M1117.7 2759.1 H1490.9"/>
<path class="tk" d="M1118.9 2395.9 h12M1118.9 2517.1 h12M1118.9 2639.5 h12M1211.2 2759.1 v-8M1304.4 2759.1 v-8M1396.5 2759.1 v-8M1490.9 2759.1 v-10"/>
<path class="nl" style="stroke-width:4.6" d="M1118.9 2274.7 H1487.7"/>
<path class="cv" d="M1118.8 2452.9C1121.1 2452.7 1128.0 2452.4 1132.6 2452.0C1137.2 2451.7 1141.8 2451.4 1146.4 2450.9C1151.0 2450.3 1155.7 2449.6 1160.3 2448.6C1164.9 2447.5 1169.5 2446.2 1174.1 2444.4C1178.7 2442.6 1183.3 2440.5 1187.9 2438.0C1192.5 2435.4 1197.1 2432.5 1201.8 2429.1C1206.4 2425.8 1211.0 2421.9 1215.6 2417.8C1220.2 2413.6 1224.8 2408.9 1229.4 2404.3C1234.0 2399.7 1238.6 2394.8 1243.2 2390.3C1247.9 2385.8 1252.5 2381.3 1257.1 2377.4C1261.7 2373.6 1266.3 2370.1 1270.9 2367.2C1275.5 2364.2 1280.1 2361.8 1284.7 2359.7C1289.4 2357.6 1294.0 2356.0 1298.6 2354.8C1303.2 2353.5 1307.8 2352.7 1312.4 2352.2C1317.0 2351.7 1321.6 2351.6 1326.2 2351.8C1330.8 2352.0 1335.5 2352.6 1340.1 2353.5C1344.7 2354.4 1349.3 2355.7 1353.9 2357.3C1358.5 2358.9 1363.1 2360.9 1367.7 2363.1C1372.3 2365.2 1376.9 2367.7 1381.6 2370.1C1386.2 2372.5 1390.8 2375.2 1395.4 2377.7C1400.0 2380.2 1404.6 2382.7 1409.2 2385.1C1413.8 2387.5 1418.4 2389.8 1423.1 2392.2C1427.7 2394.5 1432.3 2396.8 1436.9 2399.1C1441.5 2401.3 1446.1 2403.7 1450.7 2405.9C1455.3 2408.1 1459.9 2410.3 1464.5 2412.3C1469.2 2414.3 1473.8 2416.2 1478.4 2417.6C1483.0 2419.1 1489.9 2420.5 1492.2 2421.0"/>
<path class="cv" d="M1118.8 2634.6C1121.1 2631.8 1128.0 2623.4 1132.6 2617.8C1137.2 2612.2 1141.8 2606.8 1146.4 2601.0C1151.0 2595.1 1155.7 2589.2 1160.3 2582.6C1164.9 2576.0 1169.5 2568.9 1174.1 2561.3C1178.7 2553.7 1183.3 2545.5 1187.9 2537.2C1192.5 2528.9 1197.1 2520.2 1201.8 2511.7C1206.4 2503.2 1211.0 2494.4 1215.6 2486.1C1220.2 2477.8 1224.8 2469.6 1229.4 2461.9C1234.0 2454.3 1238.6 2446.9 1243.2 2440.4C1247.9 2433.9 1252.5 2427.8 1257.1 2422.8C1261.7 2417.7 1266.3 2413.5 1270.9 2410.1C1275.5 2406.7 1280.1 2404.2 1284.7 2402.4C1289.4 2400.5 1294.0 2399.4 1298.6 2398.8C1303.2 2398.2 1307.8 2398.3 1312.4 2398.9C1317.0 2399.4 1321.6 2400.5 1326.2 2402.1C1330.8 2403.7 1335.5 2405.8 1340.1 2408.4C1344.7 2411.0 1349.3 2414.0 1353.9 2417.5C1358.5 2420.9 1363.1 2424.9 1367.7 2429.0C1372.3 2433.2 1376.9 2437.7 1381.6 2442.4C1386.2 2447.0 1390.8 2451.9 1395.4 2456.8C1400.0 2461.7 1404.6 2466.7 1409.2 2471.6C1413.8 2476.6 1418.4 2481.5 1423.1 2486.4C1427.7 2491.2 1432.3 2496.0 1436.9 2500.5C1441.5 2505.1 1446.1 2509.6 1450.7 2513.7C1455.3 2517.9 1459.9 2521.9 1464.5 2525.4C1469.2 2529.0 1473.8 2532.3 1478.4 2535.0C1483.0 2537.8 1489.9 2540.7 1492.2 2541.9"/>
<path class="bx" d="M1360.3 2759.1 V2686.1 H1490.9"/>
<text class="cl" x="1190.6" y="2252.4" text-anchor="middle">一次</text>
<text class="cl" x="1192.5" y="2376.8" text-anchor="middle">二次</text>
<text class="cl" x="1274.1" y="2526.3" text-anchor="middle">多次</text>
<text class="tl" transform="translate(1023.0 2403.7) scale(0.93 1)" x="0.0 15.7 30.2 44.7 61.2" y="0">0.75<tspan class="it">n</tspan></text>
<text class="tl" transform="translate(1023.0 2524.9) scale(0.93 1)" x="0.0 15.7 30.2 44.7 61.2" y="0">0.50<tspan class="it">n</tspan></text>
<text class="tl" transform="translate(1023.0 2652.3) scale(0.93 1)" x="0.0 15.7 30.2 44.7 61.2" y="0">0.25<tspan class="it">n</tspan></text>
<text class="tl it" style="font-size:32px;stroke-width:0.55px" x="1079.1" y="2284.4">n</text>
<text class="tl" x="1090.5" y="2764.2" text-anchor="middle">0</text>
<text class="tl" transform="translate(1116.8 2789.4) scale(0.94 1)" text-anchor="middle">0</text>
<text class="tl" transform="translate(1209.2 2789.4) scale(0.94 1)" text-anchor="middle">4</text>
<text class="tl" transform="translate(1302.1 2789.4) scale(0.94 1)" text-anchor="middle">8</text>
<text class="tl" transform="translate(1397.2 2789.4) scale(0.94 1)" text-anchor="middle">12</text>
<text class="tl" transform="translate(1490.5 2789.4) scale(0.94 1)" text-anchor="middle">16</text>
<text class="ac" y="2724.1"><tspan x="1390.6">Ac</tspan><tspan x="1428.1" dy="-0.5" textLength="26.0" lengthAdjust="spacingAndGlyphs">=</tspan><tspan x="1455.6" dy="0.5">8</tspan></text>
</g>
<g>
<path class="ay" d="M1614.6 2226.1 V2759.3"/>
<path class="ax" d="M1613.4 2757.9 H1985.8"/>
<path class="tk" d="M1614.6 2394.7 h12M1614.6 2515.2 h12M1614.6 2637.9 h12M1676.2 2757.9 v-8M1738.0 2757.9 v-8M1799.3 2757.9 v-8M1862.7 2757.9 v-8M1923.6 2757.9 v-8M1985.8 2757.9 v-10"/>
<path class="nl" style="stroke-width:4.2" d="M1614.6 2273.5 H1983.1"/>
<path class="cv" d="M1613.8 2450.4C1616.1 2450.7 1622.9 2451.9 1627.5 2452.1C1632.0 2452.2 1636.6 2451.7 1641.2 2451.1C1645.7 2450.5 1650.3 2449.5 1654.8 2448.5C1659.4 2447.5 1664.0 2446.5 1668.5 2445.3C1673.1 2444.0 1677.7 2442.8 1682.2 2441.1C1686.8 2439.4 1691.4 2437.5 1695.9 2434.8C1700.5 2432.2 1705.0 2429.1 1709.6 2425.3C1714.2 2421.5 1718.7 2416.9 1723.3 2412.1C1727.9 2407.2 1732.4 2401.7 1737.0 2396.3C1741.6 2390.8 1746.1 2384.9 1750.7 2379.3C1755.3 2373.6 1759.8 2367.8 1764.4 2362.4C1768.9 2356.9 1773.5 2351.5 1778.1 2346.8C1782.6 2342.0 1787.2 2337.5 1791.8 2333.8C1796.3 2330.1 1800.9 2327.0 1805.5 2324.7C1810.0 2322.3 1814.6 2320.7 1819.1 2319.5C1823.7 2318.4 1828.3 2317.9 1832.8 2317.7C1837.4 2317.5 1842.0 2317.9 1846.5 2318.4C1851.1 2319.0 1855.7 2319.9 1860.2 2321.1C1864.8 2322.3 1869.3 2323.8 1873.9 2325.7C1878.5 2327.6 1883.0 2329.7 1887.6 2332.2C1892.2 2334.8 1896.7 2337.7 1901.3 2340.8C1905.9 2343.8 1910.4 2347.3 1915.0 2350.8C1919.6 2354.3 1924.1 2358.0 1928.7 2361.6C1933.2 2365.3 1937.8 2369.1 1942.4 2372.6C1946.9 2376.1 1951.5 2379.8 1956.1 2382.7C1960.6 2385.7 1965.2 2388.5 1969.8 2390.4C1974.3 2392.2 1981.2 2393.4 1983.4 2394.0"/>
<path class="cv" d="M1613.8 2634.6C1616.1 2631.7 1622.9 2622.9 1627.5 2617.2C1632.1 2611.4 1636.7 2605.6 1641.2 2599.9C1645.8 2594.1 1650.4 2588.4 1655.0 2582.7C1659.6 2577.0 1664.1 2571.3 1668.7 2565.6C1673.3 2559.9 1677.9 2554.2 1682.5 2548.5C1687.0 2542.7 1691.6 2537.0 1696.2 2531.2C1700.8 2525.3 1705.4 2519.5 1709.9 2513.6C1714.5 2507.7 1719.1 2501.7 1723.7 2495.8C1728.3 2489.9 1732.8 2483.9 1737.4 2478.2C1742.0 2472.4 1746.6 2466.7 1751.2 2461.3C1755.7 2455.9 1760.3 2450.5 1764.9 2445.7C1769.5 2440.8 1774.0 2436.1 1778.6 2432.2C1783.2 2428.3 1787.8 2424.8 1792.4 2422.1C1796.9 2419.5 1801.5 2417.6 1806.1 2416.5C1810.7 2415.3 1815.3 2415.1 1819.8 2415.2C1824.4 2415.4 1829.0 2416.3 1833.6 2417.5C1838.2 2418.6 1842.7 2420.3 1847.3 2422.1C1851.9 2423.9 1856.5 2425.9 1861.1 2428.3C1865.6 2430.6 1870.2 2433.1 1874.8 2436.0C1879.4 2438.8 1884.0 2441.9 1888.5 2445.3C1893.1 2448.7 1897.7 2452.4 1902.3 2456.3C1906.9 2460.1 1911.4 2464.3 1916.0 2468.4C1920.6 2472.6 1925.2 2477.0 1929.7 2481.3C1934.3 2485.5 1938.9 2489.9 1943.5 2494.1C1948.1 2498.3 1952.6 2502.5 1957.2 2506.4C1961.8 2510.2 1966.4 2513.9 1971.0 2517.1C1975.5 2520.3 1982.4 2524.2 1984.7 2525.6"/>
<path class="bx" d="M1855.7 2757.9 V2685.3 H1985.8"/>
<path class="sh" d="M1717.0 2757.9 V2721.6"/>
<path class="ah" d="M1717.0 2701.6 l-4.8 23.5 h9.6z"/>
<text class="cl" x="1699.1" y="2251.3" text-anchor="middle">一次</text>
<text class="cl" x="1700.3" y="2375.6" text-anchor="middle">二次</text>
<text class="cl" x="1750.0" y="2563.2" text-anchor="middle">多次</text>
<text class="tl" transform="translate(1526.1 2402.9) scale(0.93 1)" x="0.0 15.9 30.5 45.1 61.9" y="0">0.75<tspan class="it">n</tspan></text>
<text class="tl" transform="translate(1526.1 2523.3) scale(0.93 1)" x="0.0 15.9 30.5 45.1 61.9" y="0">0.50<tspan class="it">n</tspan></text>
<text class="tl" transform="translate(1526.1 2651.5) scale(0.93 1)" x="0.0 15.9 30.5 45.1 61.9" y="0">0.25<tspan class="it">n</tspan></text>
<text class="tl it" style="font-size:32px;stroke-width:0.55px" x="1583.0" y="2282.5">n</text>
<text class="tl" x="1592.5" y="2763.0" text-anchor="middle">0</text>
<text class="tl" transform="translate(1614.8 2787.5) scale(0.94 1)" text-anchor="middle">0</text>
<text class="tl" transform="translate(1676.2 2787.5) scale(0.94 1)" text-anchor="middle">3</text>
<text class="tl" transform="translate(1739.1 2787.5) scale(0.94 1)" text-anchor="middle">6</text>
<text class="tl" transform="translate(1799.3 2787.5) scale(0.94 1)" text-anchor="middle">9</text>
<text class="tl" transform="translate(1863.4 2787.5) scale(0.94 1)" text-anchor="middle">12</text>
<text class="tl" transform="translate(1923.6 2787.5) scale(0.94 1)" text-anchor="middle">15</text>
<text class="tl" transform="translate(1987.7 2787.5) scale(0.94 1)" text-anchor="middle">18</text>
<text class="ac" y="2723.0"><tspan x="1878.2">Ac</tspan><tspan x="1915.7" dy="-0.5" textLength="27.1" lengthAdjust="spacingAndGlyphs">=</tspan><tspan x="1942.8" dy="0.5">10</tspan></text>
</g>
<text class="vl" text-anchor="middle" x="489.3 489.3 489.3 489.3 489.3" y="798.8 840.0 881.6 924.3 965.1">平均样本量</text>
<text class="vl" text-anchor="middle" x="489.3 489.3 489.3 489.3 489.3" y="1616.6 1658.5 1701.3 1743.2 1784.0">平均样本量</text>
<text class="vl" text-anchor="middle" x="494.4 494.4 494.4 494.4 494.4" y="2443.3 2484.1 2524.1 2565.7 2606.5">平均样本量</text>
<text class="xt"><tspan class="it" x="1047.6" y="1292.6" style="font-size:34px">n</tspan><tspan x="1069.4" y="1298.6" style="font-size:54px">×</tspan><tspan class="xc" x="1105.0 1142.6 1180.2 1217.7 1255.3 1292.9 1328.9" y="1292.6">不合格品百分数</tspan><tspan x="1364.6" y="1295.1" textLength="15" lengthAdjust="spacingAndGlyphs" style="font-size:39px">/</tspan><tspan x="1383.0 1401.7 1420.5" y="1292.1" style="font-size:35px">100</tspan></text>
<text class="xt"><tspan class="it" x="1050.7" y="2101.0" style="font-size:34px">n</tspan><tspan x="1072.4" y="2107.0" style="font-size:54px">×</tspan><tspan class="xc" x="1107.9 1145.3 1182.7 1220.2 1257.6 1295.1 1331.0" y="2101.0">不合格品百分数</tspan><tspan x="1367.7" y="2103.5" textLength="15" lengthAdjust="spacingAndGlyphs" style="font-size:39px">/</tspan><tspan x="1386.1 1404.8 1423.6" y="2100.5" style="font-size:35px">100</tspan></text>
<text class="xt"><tspan class="it" x="1052.9" y="2911.0" style="font-size:34px">n</tspan><tspan x="1074.7" y="2917.0" style="font-size:54px">×</tspan><tspan class="xc" x="1110.2 1147.7 1185.3 1222.8 1260.3 1297.8 1333.8" y="2911.0">不合格品百分数</tspan><tspan x="1369.9" y="2913.5" textLength="15" lengthAdjust="spacingAndGlyphs" style="font-size:39px">/</tspan><tspan x="1388.3 1407.0 1425.8" y="2910.5" style="font-size:35px">100</tspan></text>
<circle cx="822.7" cy="1101.5" r="1.6" fill="#222"/>
<text x="2106.5" y="3206" style="font-family:'Liberation Serif','Noto Serif CJK SC',serif;font-size:35.5px;stroke:#0a0a0a;stroke-width:0.3px" textLength="34" lengthAdjust="spacing">41</text>
<text y="304.0"><tspan class="hb" x="1478.5" textLength="102" lengthAdjust="spacingAndGlyphs">GB/T</tspan><tspan class="hs"> </tspan><tspan class="hs" x="1604.1" textLength="87.2" lengthAdjust="spacingAndGlyphs">2828</tspan><tspan class="hs" x="1691.1" textLength="11.5" lengthAdjust="spacingAndGlyphs">.</tspan><tspan class="hs" x="1704.7" textLength="21.8" lengthAdjust="spacingAndGlyphs">1</tspan><tspan class="hd" x="1720.7" textLength="46.3" lengthAdjust="spacingAndGlyphs">—</tspan><tspan class="hs" x="1768.2" textLength="43.6" lengthAdjust="spacingAndGlyphs">20</tspan><tspan class="hs" x="1810.0" textLength="21.8" lengthAdjust="spacingAndGlyphs">1</tspan><tspan class="hs" x="1829.6" textLength="21.8" lengthAdjust="spacingAndGlyphs">2</tspan><tspan class="hl" x="1855.5" dy="3">/</tspan><tspan class="hb" x="1877.5" dy="-3" textLength="67" lengthAdjust="spacingAndGlyphs">ISO</tspan><tspan class="hs"> </tspan><tspan class="hs" x="1958.5" textLength="86.0" lengthAdjust="spacingAndGlyphs">2859</tspan><tspan class="hs" x="2043.5" textLength="13.5" lengthAdjust="spacingAndGlyphs">-</tspan><tspan class="hs" x="2061.0" textLength="21.8" lengthAdjust="spacingAndGlyphs">1</tspan><tspan class="hs" x="2086.2" textLength="11.5" lengthAdjust="spacingAndGlyphs">:</tspan><tspan class="hs" x="2104.2" textLength="21.8" lengthAdjust="spacingAndGlyphs">1</tspan><tspan class="hs" x="2123.9" textLength="65.4" lengthAdjust="spacingAndGlyphs">999</tspan></text>
<text class="tt" text-anchor="middle" x="820.7 866.8 943.5 985.5 1029.4 1050.0 1093.3 1135.9 1179.6 1223.3 1267.0 1310.8 1354.5 1396.9 1441.0 1483.6 1526.2 1570.0 1613.3 1656.5" y="458.4">表<tspan class="t9">9</tspan>一次<tspan class="pc">、</tspan>二次和多次抽样的平均样本量曲线</text>
<text class="tt" text-anchor="middle" x="1008.5 1054.4 1097.7 1140.7 1162.2 1205.7 1249.2 1292.8 1336.3 1380.2 1422.8 1466.5" y="521.8"><tspan class="pp">（</tspan>正常<tspan class="pc">、</tspan>加严和放宽检验<tspan class="pp">）</tspan></text>
</svg>
</body>
</html>
